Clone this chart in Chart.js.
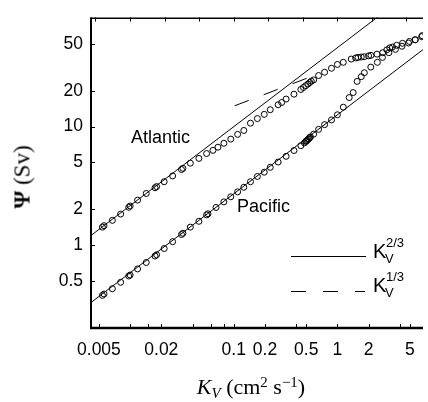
<!DOCTYPE html>
<html>
<head>
<meta charset="utf-8">
<script src="https://cdn.jsdelivr.net/npm/chart.js@4.4.1/dist/chart.umd.min.js"></script>
<style>
	html, body { margin: 0; padding: 0; background: #fff; }
	#wrap { position: relative; width: 428px; height: 402px; overflow: hidden; }
	#chart-psi { position: absolute; left: 0; top: 0; }
	.txt { position: absolute; font-family: "Liberation Sans", Arial, sans-serif; color: #000; line-height: 1; white-space: nowrap; }
	.serif { position: absolute; font-family: "Liberation Serif", "Times New Roman", serif; color: #000; line-height: 1; white-space: nowrap; font-size: 22px; }
	.lo { position: relative; font-size: 0.68em; top: 0.28em; }
	.hi { position: relative; font-size: 0.68em; top: -0.45em; }
</style>
</head>
<body>
<div id="wrap">
	<canvas id="chart-psi" width="428" height="402"></canvas>
	<div class="txt" style="left:131px; top:128px; font-size:18px;">Atlantic</div>
	<div class="txt" style="left:237px; top:197px; font-size:18px;">Pacific</div>

	<div class="txt" style="left:373px; top:241px; font-size:20px;">K</div>
	<div class="txt" style="left:386px; top:236px; font-size:13px;">2/3</div>
	<div class="txt" style="left:385px; top:252px; font-size:13px;">V</div>
	<div class="txt" style="left:373px; top:275px; font-size:20px;">K</div>
	<div class="txt" style="left:386px; top:270px; font-size:13px;">1/3</div>
	<div class="txt" style="left:385px; top:286px; font-size:13px;">V</div>

	<div class="serif" style="left:251px; top:376px; transform:translateX(-50%);"><i>K<span class="lo">V</span></i> (cm<span class="hi">2</span> s<span class="hi">−1</span>)</div>
	<div class="serif" style="left:22px; top:177px; font-size:23px; transform:translate(-50%,-50%) rotate(-90deg);"><b>Ψ</b> (Sv)</div>
</div>
<script>
// Atlantic overturning vs diffusivity
const kvAtlantic = [
	0.0054, 0.0056, 0.00674, 0.0081, 0.0097, 0.0100, 0.0118, 0.0143, 0.0174, 0.0180,
	0.0213, 0.0257, 0.0313, 0.0323, 0.0381, 0.0461, 0.0547, 0.063, 0.0704, 0.0803,
	0.0936, 0.109, 0.125, 0.145, 0.169, 0.197, 0.225, 0.268, 0.29, 0.32,
	0.381, 0.444, 0.47, 0.496, 0.52, 0.541, 0.56, 0.59, 0.659, 0.752,
	0.877, 1.0, 1.14, 1.36, 1.5, 1.58, 1.7, 1.81, 2.0, 2.11,
	2.41, 2.74, 3.0, 3.2, 3.4, 3.73, 4.25, 4.96, 5.65, 6.59,
];
const psiAtlantic = [
	1.42, 1.46, 1.62, 1.83, 2.09, 2.14, 2.40, 2.73, 3.05, 3.12,
	3.43, 3.84, 4.35, 4.45, 4.92, 5.40, 5.93, 6.31, 6.71, 7.24,
	7.85, 8.61, 9.29, 10.7, 11.7, 12.7, 13.9, 15.3, 16.0, 17.1,
	18.8, 20.6, 21.4, 22.2, 22.9, 23.6, 24.2, 24.8, 27.0, 28.8,
	31.1, 33.5, 34.9, 37.2, 38.0, 38.4, 38.7, 38.9, 39.6, 40.0,
	40.9, 42.1, 44.5, 46.2, 47.0, 48.6, 50.5, 52.4, 54.1, 58.6,
];

// Pacific overturning vs diffusivity
const kvPacific = [
	0.0054, 0.0056, 0.00674, 0.0081, 0.0097, 0.0100, 0.0118, 0.0143, 0.0174, 0.0180,
	0.0213, 0.0257, 0.0313, 0.0323, 0.0381, 0.0461, 0.0547, 0.0564, 0.0674, 0.0803,
	0.0936, 0.109, 0.125, 0.145, 0.169, 0.197, 0.225, 0.268, 0.32, 0.381,
	0.444, 0.48, 0.496, 0.50, 0.51, 0.52, 0.53, 0.541, 0.55, 0.59,
	0.659, 0.752, 0.877, 1.0, 1.14, 1.30, 1.42, 1.55, 1.70, 1.82,
	2.10, 2.43, 2.72, 3.14, 3.63, 4.2, 4.86, 5.62, 6.5,
];
const psiPacific = [
	0.377, 0.387, 0.429, 0.486, 0.549, 0.56, 0.630, 0.714, 0.810, 0.83,
	0.937, 1.07, 1.23, 1.26, 1.42, 1.59, 1.80, 1.84, 2.08, 2.32,
	2.56, 2.82, 3.08, 3.43, 3.80, 4.13, 4.54, 5.03, 5.62, 6.29,
	6.91, 7.3, 7.51, 7.55, 7.65, 7.8, 7.9, 8.10, 8.2, 8.64,
	9.49, 10.4, 11.4, 12.6, 14.6, 17.6, 19.4, 24.1, 26.4, 28.5,
	31.8, 34.9, 38.4, 42.1, 44.9, 47.7, 50.8, 54.1, 57.5,
];

// Reference power laws (end points)
const fitAtlanticKv = [0.004, 3.0];
const fitAtlanticPsi = [1.17, 96.5];
const fitPacificKv = [0.004, 7.0];
const fitPacificPsi = [0.318, 46.0];
const fitThirdKv = [0.102, 0.53];
const fitThirdPsi = [15.0, 26.0];

// Axis ticks
const xTickLabels = [0.005, 0.02, 0.1, 0.2, 0.5, 1, 2, 5];
const xMinorTicks = [0.01, 0.015, 0.04, 0.06, 0.08, 0.4, 4];
const xTopTicks = [0.0046, 0.01, 0.0215, 0.046, 0.1, 0.215, 0.464, 1, 2.15, 4.64];
const yTickLabels = [0.5, 1, 2, 5, 10, 20, 50];

const pairs = (xs, ys) => xs.map((v, i) => ({ x: v, y: ys[i] }));

const circles = {
	showLine: false,
	pointRadius: 3,
	pointBorderWidth: 1,
	pointBorderColor: "#000",
	pointBackgroundColor: "rgba(0,0,0,0)",
};

const fitLine = {
	showLine: true,
	pointRadius: 0,
	borderColor: "#000",
	borderWidth: 1,
};

// Axes frame, inward ticks and key samples
const framePlugin = {
	id: "frame",
	afterDraw(chart) {
		const { ctx, chartArea: a, scales: { x, y } } = chart;
		ctx.save();
		ctx.strokeStyle = "#000";

		ctx.lineWidth = 2;
		ctx.beginPath();
		ctx.moveTo(a.left + 1, a.top);
		ctx.lineTo(a.left + 1, a.bottom);
		ctx.stroke();

		ctx.lineWidth = 2.5;
		ctx.beginPath();
		ctx.moveTo(a.left, a.bottom);
		ctx.lineTo(a.right, a.bottom);
		ctx.stroke();

		ctx.lineWidth = 1.5;
		ctx.beginPath();
		ctx.moveTo(a.left, a.top + 0.75);
		ctx.lineTo(a.right, a.top + 0.75);
		ctx.stroke();

		ctx.lineWidth = 1;
		ctx.beginPath();
		[...xTickLabels, ...xMinorTicks].forEach((v) => {
			const px = Math.round(x.getPixelForValue(v)) + 0.5;
			ctx.moveTo(px, a.bottom);
			ctx.lineTo(px, a.bottom - 4);
		});
		xTopTicks.forEach((v) => {
			const px = Math.round(x.getPixelForValue(v)) + 0.5;
			ctx.moveTo(px, a.top);
			ctx.lineTo(px, a.top + 4);
		});
		yTickLabels.forEach((v) => {
			const py = Math.round(y.getPixelForValue(v)) + 0.5;
			ctx.moveTo(a.left, py);
			ctx.lineTo(a.left + 5, py);
		});
		ctx.stroke();

		// key samples
		ctx.beginPath();
		ctx.moveTo(291, 256.5);
		ctx.lineTo(366, 256.5);
		ctx.stroke();
		ctx.setLineDash([15, 17]);
		ctx.beginPath();
		ctx.moveTo(291, 291.5);
		ctx.lineTo(365, 291.5);
		ctx.stroke();
		ctx.restore();
	},
};

const tickFont = { family: "'Liberation Sans', Arial, sans-serif", size: 17.5 };

const CHART_CONFIG = {
	type: "scatter",
	data: {
		datasets: [
			{ label: "Atlantic", data: pairs(kvAtlantic, psiAtlantic), ...circles },
			{ label: "Pacific", data: pairs(kvPacific, psiPacific), ...circles },
			{ label: "Kv^2/3 Atlantic", data: pairs(fitAtlanticKv, fitAtlanticPsi), ...fitLine },
			{ label: "Kv^2/3 Pacific", data: pairs(fitPacificKv, fitPacificPsi), ...fitLine },
			{ label: "Kv^1/3", data: pairs(fitThirdKv, fitThirdPsi), ...fitLine, borderDash: [15, 16] },
		],
	},
	options: {
		responsive: false,
		animation: false,
		layout: {
			padding: { top: 5, right: 0, left: 0, bottom: 0 },
		},
		plugins: {
			legend: { display: false },
			title: { display: false },
			tooltip: { enabled: false },
		},
		scales: {
			x: {
				type: "logarithmic",
				min: 0.0041,
				max: 6.7,
				border: { display: false },
				grid: { display: false, drawTicks: false },
				afterBuildTicks: (s) => {
					s.ticks = xTickLabels.map((v) => ({ value: v }));
				},
				afterFit: (s) => {
					s.height = 74;
				},
				ticks: {
					autoSkip: false,
					maxRotation: 0,
					padding: 12,
					color: "#000",
					font: tickFont,
					callback: (v) => String(v),
				},
			},
			y: {
				type: "logarithmic",
				min: 0.2,
				max: 83.4,
				border: { display: false },
				grid: { display: false, drawTicks: false },
				afterBuildTicks: (s) => {
					s.ticks = yTickLabels.map((v) => ({ value: v }));
				},
				afterFit: (s) => {
					s.width = 90;
				},
				ticks: {
					autoSkip: false,
					padding: 7,
					color: "#000",
					font: tickFont,
					callback: (v) => String(v),
				},
			},
		},
	},
	plugins: [framePlugin],
};

new Chart(document.getElementById("chart-psi"), CHART_CONFIG);
</script>
</body>
</html>
